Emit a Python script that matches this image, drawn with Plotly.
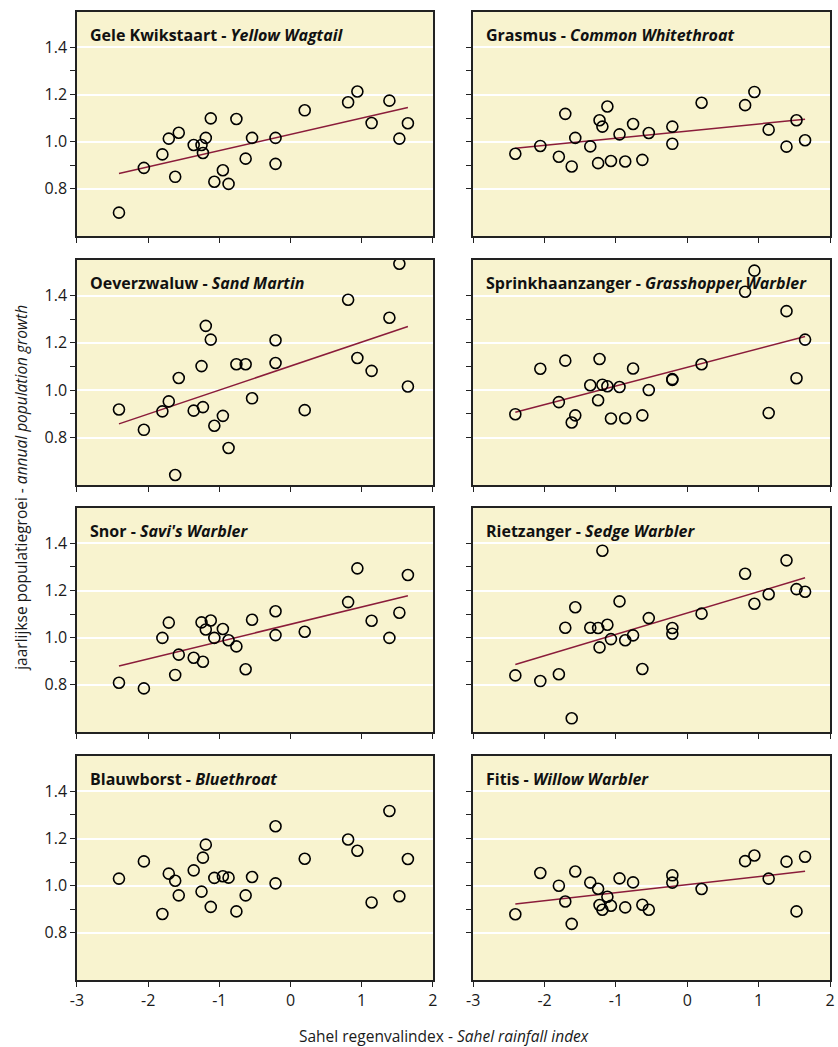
import plotly.graph_objects as go

# Sahel rainfall index per year (shared by all species)
rain_index = [-2.41, -2.06, -1.80, -1.71, -1.62, -1.57, -1.36, -1.25, -1.23, -1.19,
              -1.12, -1.07, -0.95, -0.87, -0.76, -0.63, -0.54, -0.21, -0.21, 0.20,
              0.81, 0.94, 1.14, 1.39, 1.53, 1.65]

# Annual population growth per species
gele_kwikstaart = [0.699, 0.889, 0.946, 1.013, 0.851, 1.038, 0.986, 0.986, 0.952, 1.016,
                   1.099, 0.830, 0.879, 0.821, 1.096, 0.928, 1.016, 1.016, 0.906, 1.133,
                   1.167, 1.213, 1.079, 1.174, 1.013, 1.078]
grasmus = [0.949, 0.982, 0.936, 1.118, 0.895, 1.016, 0.980, 0.909, 1.091, 1.064,
           1.149, 0.918, 1.031, 0.916, 1.075, 0.923, 1.037, 1.064, 0.991, 1.165,
           1.155, 1.211, 1.051, 0.979, 1.091, 1.006]
oeverzwaluw = [0.919, 0.833, 0.911, 0.953, 0.642, 1.052, 0.914, 1.102, 0.929, 1.272,
               1.214, 0.850, 0.892, 0.756, 1.110, 1.110, 0.966, 1.211, 1.115, 0.916,
               1.382, 1.136, 1.082, 1.306, 1.534, 1.016]
sprinkhaanzanger = [0.899, 1.091, 0.950, 1.125, 0.864, 0.894, 1.021, 0.958, 1.132, 1.023,
                    1.017, 0.881, 1.014, 0.882, 1.092, 0.894, 1.001, 1.047, 1.044, 1.110,
                    1.416, 1.505, 0.904, 1.334, 1.051, 1.214]
snor = [0.809, 0.785, 0.999, 1.064, 0.842, 0.928, 0.915, 1.065, 0.898, 1.035,
        1.073, 0.999, 1.037, 0.989, 0.963, 0.866, 1.076, 1.112, 1.011, 1.025,
        1.151, 1.294, 1.072, 0.999, 1.106, 1.266]
rietzanger = [0.840, 0.816, 0.845, 1.042, 0.658, 1.129, 1.042, 1.041, 0.959, 1.369,
              1.055, 0.994, 1.154, 0.989, 1.010, 0.867, 1.083, 1.041, 1.017, 1.102,
              1.271, 1.144, 1.184, 1.328, 1.206, 1.195]
blauwborst = [1.030, 1.103, 0.880, 1.051, 1.021, 0.959, 1.065, 0.975, 1.119, 1.174,
              0.910, 1.033, 1.040, 1.034, 0.891, 0.959, 1.037, 1.252, 1.010, 1.114,
              1.196, 1.148, 0.929, 1.317, 0.955, 1.113]
fitis = [0.879, 1.054, 1.000, 0.933, 0.838, 1.060, 1.013, 0.987, 0.918, 0.898,
         0.953, 0.915, 1.031, 0.908, 1.014, 0.919, 0.898, 1.044, 1.013, 0.986,
         1.104, 1.128, 1.030, 1.102, 0.891, 1.123]

# Regression lines: value at the start and end of the rainfall range
trend_x = [-2.41, 1.65]
trend_gele_kwikstaart = [0.865, 1.145]
trend_grasmus = [0.972, 1.095]
trend_oeverzwaluw = [0.858, 1.269]
trend_sprinkhaanzanger = [0.907, 1.227]
trend_snor = [0.880, 1.178]
trend_rietzanger = [0.886, 1.254]
trend_fitis = [0.922, 1.061]

panel_titles = [
    ("Gele Kwikstaart", "Yellow Wagtail"),
    ("Grasmus", "Common Whitethroat"),
    ("Oeverzwaluw", "Sand Martin"),
    ("Sprinkhaanzanger", "Grasshopper Warbler"),
    ("Snor", "Savi's Warbler"),
    ("Rietzanger", "Sedge Warbler"),
    ("Blauwborst", "Bluethroat"),
    ("Fitis", "Willow Warbler"),
]
series = [gele_kwikstaart, grasmus, oeverzwaluw, sprinkhaanzanger,
          snor, rietzanger, blauwborst, fitis]
trends = [trend_gele_kwikstaart, trend_grasmus, trend_oeverzwaluw, trend_sprinkhaanzanger,
          trend_snor, trend_rietzanger, None, trend_fitis]

x_ticks = [-3, -2, -1, 0, 1, 2]
y_major = [0.8, 1.0, 1.2, 1.4]
y_minor = [0.9, 1.1, 1.3]

W, H = 838, 1047
col_px = [(71, 432), (473, 835)]
row_px = [(12, 236), (260, 485), (508, 732), (756, 980)]

FONT = "Open Sans"
PANEL_BG = "#f8f3cf"
LINE_RED = "#8a1c3a"

fig = go.Figure()
layout = dict(
    width=W, height=H,
    margin=dict(l=0, r=0, t=0, b=0),
    paper_bgcolor="white",
    showlegend=False,
    font=dict(family=FONT, size=14, color="#1a1a1a"),
)
annotations = []

for i, (ys, tr, (nl, en)) in enumerate(zip(series, trends, panel_titles)):
    r, c = divmod(i, 2)
    n = i + 1
    xa = "x" if n == 1 else f"x{n}"
    ya = "y" if n == 1 else f"y{n}"
    x0, x1 = col_px[c]
    y0, y1 = row_px[r]
    bottom = r == 3
    layout["xaxis" if n == 1 else f"xaxis{n}"] = dict(
        domain=[x0 / W, x1 / W], anchor=ya, range=[-3, 2],
        tickvals=x_ticks, ticktext=[str(v) if v >= 0 else f"-{abs(v)}" for v in x_ticks],
        showticklabels=bottom, ticks="outside", ticklen=5, tickwidth=1, tickcolor="#222",
        showgrid=False, zeroline=False, showline=True, mirror=True,
        linecolor="#222", linewidth=1.5, tickfont=dict(size=16, family=FONT),
    )
    layout["yaxis" if n == 1 else f"yaxis{n}"] = dict(
        domain=[1 - y1 / H, 1 - y0 / H], anchor=xa, range=[0.6, 1.55],
        tickvals=y_major, ticktext=[f"{v:.1f}" for v in y_major],
        showticklabels=(c == 0), ticks="outside", ticklen=5, tickwidth=1, tickcolor="#222",
        showgrid=True, gridcolor="white", gridwidth=1.5, zeroline=False,
        showline=True, mirror=True, linecolor="#222", linewidth=1.5,
        tickfont=dict(size=16, family=FONT),
        minor=dict(tickvals=y_minor, ticks="outside", ticklen=5, tickwidth=1,
                   tickcolor="#222", showgrid=False),
    )
    fig.add_shape(type="rect", xref=f"{xa} domain", yref=f"{ya} domain",
                  x0=0, x1=1, y0=0, y1=1, fillcolor=PANEL_BG, line_width=0, layer="below")
    if tr is not None:
        fig.add_trace(go.Scatter(x=trend_x, y=tr, mode="lines", xaxis=xa, yaxis=ya,
                                 line=dict(color=LINE_RED, width=1.5), hoverinfo="skip"))
    fig.add_trace(go.Scatter(x=rain_index, y=ys, mode="markers", xaxis=xa, yaxis=ya,
                             marker=dict(symbol="circle-open", size=11, color="black",
                                         line=dict(width=1.6, color="black"))))
    annotations.append(dict(
        xref=f"{xa} domain", yref=f"{ya} domain", x=11 / (x1 - x0), y=1 - 23 / (y1 - y0),
        xanchor="left", yanchor="middle", showarrow=False,
        text=f"<b>{nl} - <i>{en}</i></b>", font=dict(size=16, family=FONT, color="#111"),
    ))

annotations.append(dict(
    xref="paper", yref="paper", x=14 / W, y=1 - 488 / H, textangle=-90,
    xanchor="center", yanchor="middle", showarrow=False,
    text="jaarlijkse populatiegroei - <i>annual population growth</i>",
    font=dict(size=15.5, family=FONT, color="#1a1a1a"),
))
annotations.append(dict(
    xref="paper", yref="paper", x=443 / W, y=1 - 1036 / H,
    xanchor="center", yanchor="middle", showarrow=False,
    text="Sahel regenvalindex - <i>Sahel rainfall index</i>",
    font=dict(size=15.5, family=FONT, color="#1a1a1a"),
))
layout["annotations"] = annotations
fig.update_layout(**layout)
fig.write_html("out.html")
